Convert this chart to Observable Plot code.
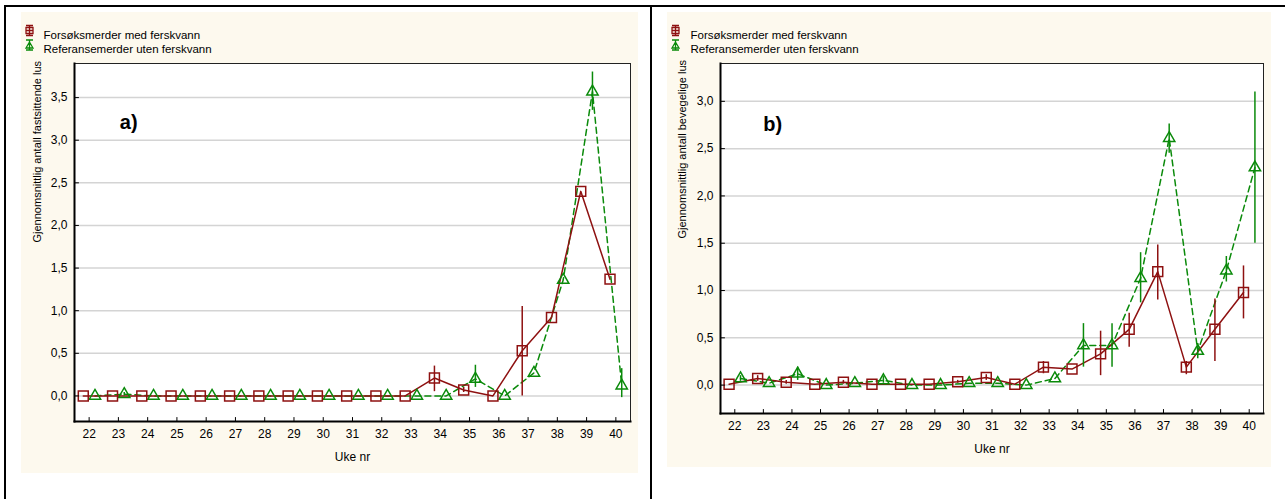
<!DOCTYPE html>
<html>
<head>
<meta charset="utf-8">
<script src="https://cdn.jsdelivr.net/npm/d3@7"></script>
<script src="https://cdn.jsdelivr.net/npm/@observablehq/plot@0.6"></script>
<style>
  html, body { margin: 0; padding: 0; background: #fff; }
  #page { position: relative; width: 1285px; height: 499px; overflow: hidden; background: #fff; font-family: "Liberation Sans", Arial, sans-serif; }
  .bl { position: absolute; background: #000; }
  .panel { position: absolute; background: #fdf9ee; }
  .panel svg { display: block; }
</style>
</head>
<body>
<div id="page">
  <div class="bl" style="left:4px; top:5px; width:1281px; height:2px;"></div>
  <div class="bl" style="left:4px; top:5px; width:2px; height:494px;"></div>
  <div class="bl" style="left:650px; top:5px; width:2px; height:494px;"></div>
  <div class="panel" id="pa" style="left:21px; top:12px; width:617px; height:461px;"></div>
  <div class="panel" id="pb" style="left:667px; top:12px; width:604px; height:455px;"></div>
</div>
<script>
// ---- data ----
const weeks = [22,23,24,25,26,27,28,29,30,31,32,33,34,35,36,37,38,39,40];
const seriesNames = ["Forsøksmerder med ferskvann", "Referansemerder uten ferskvann"];
const xLabel = "Uke nr";

// a) fastsittende lus
const aForsok   = [0,0,0,0,0,0,0,0,0,0,0,0,0.21,0.07,0,0.53,0.92,2.40,1.37];
const aForsokLo = [null,null,null,null,null,null,null,null,null,null,null,null,0.05,0.04,null,0.00,null,null,null];
const aForsokHi = [null,null,null,null,null,null,null,null,null,null,null,null,0.35,0.10,null,1.05,null,null,null];
const aRef      = [0,0.02,0,0,0,0,0,0,0,0,0,0,0,0.20,0,0.27,1.36,3.57,0.12];
const aRefLo    = [null,0.00,null,null,null,null,null,null,null,null,null,null,null,0.10,null,null,null,3.35,-0.02];
const aRefHi    = [null,0.04,null,null,null,null,null,null,null,null,null,null,null,0.36,null,null,null,3.80,0.32];
const aYTicks   = [0,0.5,1,1.5,2,2.5,3,3.5];
const aYLabel   = "Gjennomsnittlig antall fastsittende lus";
const aTag      = "a)";

// b) bevegelige lus
const bForsok   = [0.01,0.07,0.03,0.01,0.03,0.01,0.01,0.01,0.035,0.08,0.01,0.19,0.17,0.33,0.59,1.20,0.19,0.59,0.98];
const bForsokLo = [null,0.04,0.01,null,0.01,null,null,null,0.02,0.05,null,0.12,null,0.10,0.40,0.90,0.11,0.25,0.70];
const bForsokHi = [null,0.10,0.05,null,0.05,null,null,null,0.05,0.11,null,0.25,null,0.57,0.76,1.48,0.25,0.91,1.26];
const bRef      = [0.07,0.02,0.12,0.00,0.02,0.05,0.00,0.00,0.02,0.02,0.00,0.07,0.42,0.42,1.13,2.61,0.36,1.21,2.30];
const bRefLo    = [0.04,null,0.05,null,null,0.02,null,null,null,null,null,null,0.19,0.19,0.87,2.45,0.28,1.09,1.50];
const bRefHi    = [0.10,null,0.19,null,null,0.09,null,null,null,null,null,null,0.65,0.65,1.40,2.76,0.44,1.36,3.10];
const bYTicks   = [0,0.5,1,1.5,2,2.5,3];
const bYLabel   = "Gjennomsnittlig antall bevegelige lus";
const bTag      = "b)";

// ---- styles ----
const RED = "#8e1111";
const GREEN = "#0a8a0a";
const fmt = d => d.toFixed(1).replace(".", ",");
const tickShape = { draw(ctx, l) { ctx.moveTo(0, 0); ctx.lineTo(0, -l); } };
const legendSquare = { draw(ctx) {
  ctx.moveTo(-3.5,-3); ctx.lineTo(3.5,-3); ctx.lineTo(3.5,3); ctx.lineTo(-3.5,3); ctx.closePath();
  ctx.moveTo(0,-5); ctx.lineTo(0,5);
  ctx.moveTo(-3.5,-5); ctx.lineTo(3.5,-5);
  ctx.moveTo(-3.5,5); ctx.lineTo(3.5,5);
  ctx.moveTo(-3.5,0); ctx.lineTo(3.5,0);
}};
const legendTriangle = { draw(ctx) {
  ctx.moveTo(0,-3); ctx.lineTo(3.5,3); ctx.lineTo(-3.5,3); ctx.closePath();
  ctx.moveTo(0,-5); ctx.lineTo(0,5);
  ctx.moveTo(-3.5,-5); ctx.lineTo(3.5,-5);
  ctx.moveTo(-3.5,5); ctx.lineTo(3.5,5);
}};

function rows(vals, lo, hi) {
  return weeks.map((w, i) => ({week: w, v: vals[i], lo: lo[i], hi: hi[i]}));
}

function panel(cfg) {
  const red = rows(cfg.forsok, cfg.forsokLo, cfg.forsokHi);
  const grn = rows(cfg.ref, cfg.refLo, cfg.refHi);
  const redErr = red.filter(d => d.lo != null);
  const grnErr = grn.filter(d => d.lo != null);
  const xr = d => d.week - 0.2;
  const xg = d => d.week + 0.2;
  return Plot.plot({
    width: cfg.width, height: cfg.height,
    marginLeft: cfg.ml, marginRight: cfg.mr, marginTop: cfg.mt, marginBottom: cfg.mb,
    style: {background: "transparent", fontFamily: "'Liberation Sans', Arial, sans-serif", fontSize: "12px", color: "#000", overflow: "visible"},
    x: {domain: [21.5, 40.5]},
    y: {domain: cfg.yDomain},
    marks: [
      Plot.frame({fill: "white", stroke: null}),
      Plot.gridY(cfg.yTicks, {stroke: "#d4d4d4", strokeOpacity: 1, strokeWidth: 1.5}),
      Plot.line(grn, {x: xg, y: "v", stroke: GREEN, strokeWidth: 1.5, strokeDasharray: "6,4"}),
      Plot.line(red, {x: xr, y: "v", stroke: RED, strokeWidth: 1.5}),
      Plot.ruleX(grnErr, {x: xg, y1: "lo", y2: "hi", stroke: GREEN, strokeWidth: 1.5}),
      Plot.ruleX(redErr, {x: xr, y1: "lo", y2: "hi", stroke: RED, strokeWidth: 1.5}),
      Plot.dot(grn, {x: xg, y: "v", symbol: "triangle", r: 4.2, stroke: GREEN, strokeWidth: 1.5, fill: "none"}),
      Plot.dot(red, {x: xr, y: "v", symbol: "square", r: 5.6, stroke: RED, strokeWidth: 1.5, fill: "none"}),
      Plot.text([cfg.tag], {x: () => cfg.tagX, y: () => cfg.tagY, text: d => d, textAnchor: "start", fontSize: 20, fontWeight: "bold", fill: "#000"}),
      Plot.frame({stroke: "#222", strokeWidth: 1}),
      Plot.frame({anchor: "left", stroke: "#000", strokeWidth: 2}),
      Plot.frame({anchor: "bottom", stroke: "#000", strokeWidth: 2}),
      Plot.vector(weeks, {x: d => d, frameAnchor: "bottom", length: 4, anchor: "start", rotate: 0, shape: tickShape, stroke: "#000", strokeWidth: 1}),
      Plot.vector(cfg.yTicks, {y: d => d, frameAnchor: "left", length: 4, anchor: "start", rotate: 90, shape: tickShape, stroke: "#000", strokeWidth: 1}),
      Plot.axisX(weeks, {tickSize: 0, tickPadding: 8, tickFormat: d => String(d), label: null, fontSize: 12}),
      Plot.axisY(cfg.yTicks, {tickSize: 0, tickPadding: 7, tickFormat: fmt, label: null, fontSize: 12}),
      Plot.text([cfg.yLabel], {frameAnchor: "left", text: d => d, rotate: -90, dx: cfg.yLabelDx, fontSize: 11, fill: "#000"}),
      Plot.text([xLabel], {frameAnchor: "bottom", text: d => d, dy: 39, fontSize: 12, fill: "#000"}),
      // legend
      Plot.dot([0], {frameAnchor: "top-left", dx: -45, dy: -33, symbol: legendSquare, stroke: RED, strokeWidth: 1.3, fill: "none"}),
      Plot.dot([0], {frameAnchor: "top-left", dx: -45, dy: -18.5, symbol: legendTriangle, stroke: GREEN, strokeWidth: 1.3, fill: "none"}),
      Plot.text([seriesNames[0]], {frameAnchor: "top-left", text: d => d, textAnchor: "start", dx: cfg.legDx, dy: -33, fontSize: 11.5, fill: "#000"}),
      Plot.text([seriesNames[1]], {frameAnchor: "top-left", text: d => d, textAnchor: "start", dx: cfg.legDx, dy: -18.5, fontSize: 11.5, fill: "#000"})
    ]
  });
}

document.getElementById("pa").appendChild(panel({
  width: 617, height: 461, ml: 53, mr: 8, mt: 51, mb: 52,
  yDomain: [-0.3, 3.9], yTicks: aYTicks, yLabel: aYLabel, yLabelDx: -37,
  forsok: aForsok, forsokLo: aForsokLo, forsokHi: aForsokHi,
  ref: aRef, refLo: aRefLo, refHi: aRefHi,
  tag: aTag, tagX: 23.05, tagY: 3.21, legDx: -31
}));
document.getElementById("pb").appendChild(panel({
  width: 604, height: 455, ml: 53, mr: 8, mt: 51, mb: 54,
  yDomain: [-0.3, 3.4], yTicks: bYTicks, yLabel: bYLabel, yLabelDx: -38,
  forsok: bForsok, forsokLo: bForsokLo, forsokHi: bForsokHi,
  ref: bRef, refLo: bRefLo, refHi: bRefHi,
  tag: bTag, tagX: 23.0, tagY: 2.75, legDx: -30
}));
</script>
</body>
</html>
